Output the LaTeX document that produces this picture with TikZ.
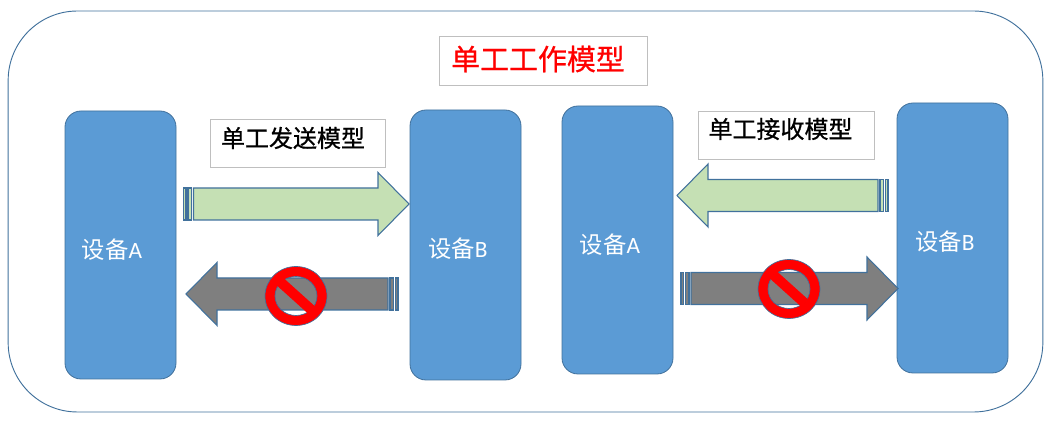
\documentclass[tikz,border=0pt]{standalone}
\usepackage{fontspec}
\setmainfont{Noto Sans CJK SC}
\newfontfamily\latinf{Carlito}
\newfontfamily\medf[RawFeature={embolden=0.7}]{Noto Sans CJK SC}
\definecolor{devblue}{HTML}{5B9BD5}
\definecolor{edgeblue}{HTML}{41719C}
\definecolor{okgreen}{HTML}{C5E0B4}
\definecolor{offgrey}{HTML}{7F7F7F}
\definecolor{boxgrey}{HTML}{BFBFBF}
\tikzset{
  device/.style={draw=edgeblue,fill=devblue,line width=0.6pt,rounded corners=12pt,minimum width=83.25pt,inner sep=0pt},
  devtext/.style={text=white,inner sep=0pt,font=\fontsize{17.5pt}{20pt}\selectfont},
  labelbox/.style={draw=boxgrey,fill=white,line width=0.6pt,inner sep=0pt},
  labeltext/.style={inner sep=0pt,font=\medf\fontsize{18pt}{20pt}\selectfont},
  arrowline/.style={draw=edgeblue,line width=0.8pt,line join=miter},
}
% #1 tail x, #2 centre y, #3 body end distance, #4 fill, #5 direction (1 or -1)
\newcommand{\stripearrow}[5]{%
  \begin{scope}[shift={(#1,#2)},xscale=#5]
    \filldraw[arrowline,fill=#4] (0,-16) rectangle (2.5,16);
    \filldraw[arrowline,fill=#4] (4.5,-16) rectangle (8,16);
    \filldraw[arrowline,fill=#4] (10,-16) -- (#3,-16) -- (#3,-31.5) -- ({#3+31},0) -- (#3,31.5) -- (#3,16) -- (10,16) -- cycle;
  \end{scope}}
\newcommand{\nosign}[2]{%
  \begin{scope}[shift={(#1,#2)}]
    \filldraw[draw=edgeblue,line width=0.5pt,fill=red,even odd rule] (0,0) ellipse [x radius=31,y radius=29.5] (0,0) ellipse [x radius=21,y radius=19.5];
    \fill[red,rotate=-42] (-21,-5) rectangle (21,5);
  \end{scope}}
\begin{document}
\begin{tikzpicture}[x=0.75pt,y=-0.75pt]
\useasboundingbox (0,0) rectangle (1054,427);
\node[draw=edgeblue,line width=0.7pt,rounded corners=52pt,minimum width=776pt,minimum height=300.75pt,inner sep=0pt] (outer) at (525.5,211.5) {};
\node[labelbox,minimum width=156pt,minimum height=36.75pt] (titlebox) at (543,60.5) {};
\node[text=red,inner sep=0pt,font=\medf\fontsize{21.7pt}{24pt}\selectfont] (title) at (538,59) {单工工作模型};
\node[labelbox,minimum width=131.25pt,minimum height=36pt] (sendbox) at (297.5,143) {};
\node[labeltext] (sendtext) at (293,138) {单工发送模型};
\node[labelbox,minimum width=132pt,minimum height=36pt] (recvbox) at (786,135) {};
\node[labeltext] (recvtext) at (780.5,129) {单工接收模型};
\node[device,minimum height=201pt] (a1) at (120.5,245) {};
\node[device,minimum height=202.5pt] (b1) at (465.5,245) {};
\node[device,minimum height=201pt] (a2) at (617.5,240) {};
\node[device,minimum height=202.5pt] (b2) at (952.5,238) {};
\node[devtext] (a1t) at (112,250) {设备{\latinf A}};
\node[devtext] (b1t) at (458,249) {设备{\latinf B}};
\node[devtext] (a2t) at (610,245) {设备{\latinf A}};
\node[devtext] (b2t) at (945,242) {设备{\latinf B}};
\stripearrow{183.5}{204}{194.5}{okgreen}{1}
\stripearrow{398}{294}{181}{offgrey}{-1}
\stripearrow{888}{195.5}{180}{okgreen}{-1}
\stripearrow{681}{288.5}{186}{offgrey}{1}
\nosign{296}{296}
\nosign{789}{289}
\end{tikzpicture}
\end{document}
